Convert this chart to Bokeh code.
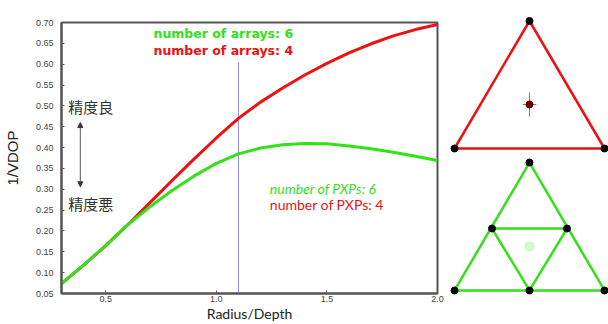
from bokeh.plotting import figure
from bokeh.layouts import row
from bokeh.models import Range1d, FixedTicker, PrintfTickFormatter, Label, Arrow, NormalHead
from bokeh.embed import file_html
from bokeh.resources import INLINE

# ---- data ----
radius_depth = [0.3, 0.4, 0.5, 0.6, 0.7, 0.8, 0.9, 1.0, 1.1, 1.2, 1.3, 1.4, 1.5, 1.6, 1.7, 1.8, 1.9, 2.0]
vdop_arrays4 = [0.074, 0.118, 0.165, 0.215, 0.268, 0.321, 0.373, 0.423, 0.470, 0.509, 0.543, 0.574, 0.602, 0.627, 0.649, 0.668, 0.683, 0.695]
vdop_arrays6 = [0.074, 0.118, 0.165, 0.215, 0.258, 0.297, 0.332, 0.362, 0.385, 0.399, 0.407, 0.410, 0.409, 0.404, 0.397, 0.389, 0.379, 0.369]
x_ticks = [0.5, 1.0, 1.5, 2.0]
y_ticks = [0.05, 0.10, 0.15, 0.20, 0.25, 0.30, 0.35, 0.40, 0.45, 0.50, 0.55, 0.60, 0.65, 0.70]
marker_x = [1.1]
marker_bottom = [0.05]
marker_top = [0.605]

# station layouts (triangle base = 2 units)
tri4_x = [0, 2, 1]
tri4_y = [0.0, 0.0, 1.70]
tri4_center_x = [1]
tri4_center_y = [0.587]
tri6_outer_x = [0, 2, 1]
tri6_outer_y = [-1.893, -1.893, -0.187]
tri6_inner_x = [0.5, 1.5, 1]
tri6_inner_y = [-1.067, -1.067, -1.893]
tri6_center_x = [1]
tri6_center_y = [-1.307]

RED = "#ee1111"
GREEN = "#33e01a"
AXIS = "#555555"

p = figure(width=448, height=324, x_range=Range1d(0.3, 2.0), y_range=Range1d(0.05, 0.70),
           output_backend="svg", toolbar_location=None,
           min_border_left=58, min_border_top=22, min_border_right=11, min_border_bottom=26)
p.frame_align = False
p.grid.visible = False
p.outline_line_color = AXIS
p.outline_line_width = 2
p.background_fill_color = "white"
p.border_fill_color = "white"

for ax in (p.xaxis[0], p.yaxis[0]):
    ax.axis_line_color = AXIS
    ax.axis_line_width = 2
    ax.major_tick_in = 3
    ax.major_tick_out = 0
    ax.major_tick_line_color = AXIS
    ax.minor_tick_line_color = None
    ax.major_label_text_font = "Liberation Sans"
    ax.major_label_text_font_size = "9px"
    ax.major_label_text_color = "#444444"

p.xaxis.ticker = FixedTicker(ticks=x_ticks)
p.xaxis.formatter = PrintfTickFormatter(format="%.1f")
p.yaxis.ticker = FixedTicker(ticks=y_ticks)
p.yaxis.formatter = PrintfTickFormatter(format="%.2f")
p.xaxis.major_label_standoff = 2
p.yaxis.major_label_standoff = 8

p.xaxis.axis_label = "Radius/Depth"
p.xaxis.axis_label_text_font = "Lato"
p.xaxis.axis_label_text_font_size = "14px"
p.xaxis.axis_label_text_font_style = "normal"
p.xaxis.axis_label_text_color = "#222222"
p.xaxis.axis_label_standoff = 0
p.yaxis.axis_label = "1/VDOP"
p.yaxis.axis_label_text_font = "Liberation Sans"
p.yaxis.axis_label_text_font_size = "15px"
p.yaxis.axis_label_text_font_style = "normal"
p.yaxis.axis_label_text_color = "#222222"
p.yaxis.axis_label_standoff = 12

p.segment(x0=marker_x, y0=marker_bottom, x1=marker_x, y1=marker_top, line_color="#8c8cf0", line_width=1)
p.line(radius_depth, vdop_arrays4, line_color=RED, line_width=3)
p.line(radius_depth, vdop_arrays6, line_color=GREEN, line_width=3)

p.add_layout(Label(x=0.716, y=0.674, text="number of arrays: 6", text_color=GREEN,
                   text_font="DejaVu Sans", text_font_style="bold", text_font_size="12.5px",
                   text_baseline="middle"))
p.add_layout(Label(x=0.716, y=0.634, text="number of arrays: 4", text_color=RED,
                   text_font="DejaVu Sans", text_font_style="bold", text_font_size="12.5px",
                   text_baseline="middle"))
p.add_layout(Label(x=1.242, y=0.301, text="number of PXPs: 6", text_color=GREEN,
                   text_font="Lato", text_font_style="italic", text_font_size="14px",
                   text_baseline="middle"))
p.add_layout(Label(x=1.242, y=0.263, text="number of PXPs: 4", text_color=RED,
                   text_font="Lato", text_font_size="14px", text_baseline="middle"))
p.add_layout(Label(x=0.331, y=0.498, text="精度良", text_color="#333333",
                   text_font="Noto Sans CJK JP", text_font_size="15px", text_baseline="middle"))
p.add_layout(Label(x=0.331, y=0.266, text="精度悪", text_color="#333333",
                   text_font="Noto Sans CJK JP", text_font_size="15px", text_baseline="middle"))
p.add_layout(Arrow(x_start=0.385, y_start=0.306, x_end=0.385, y_end=0.460,
                   line_color="#555555", line_width=1,
                   start=NormalHead(size=5, fill_color="#333333", line_color="#333333"),
                   end=NormalHead(size=5, fill_color="#333333", line_color="#333333")))

# ---- station layout panel ----
q = figure(width=160, height=324, x_range=Range1d(-0.08, 2.0533), y_range=Range1d(-2.3467, 1.9733),
           output_backend="svg", toolbar_location=None, x_axis_location=None, y_axis_location=None,
           min_border=0)
q.frame_align = False
q.grid.visible = False
q.outline_line_color = None
q.background_fill_color = "white"
q.border_fill_color = "white"

q.patch(tri4_x, tri4_y, fill_color=None, line_color=RED, line_width=2.5)
q.segment(x0=[tri4_center_x[0] - 0.09], y0=tri4_center_y, x1=[tri4_center_x[0] + 0.09], y1=tri4_center_y,
          line_color="#cc5555", line_width=1)
q.segment(x0=tri4_center_x, y0=[tri4_center_y[0] - 0.16], x1=tri4_center_x, y1=[tri4_center_y[0] + 0.16],
          line_color="#cc5555", line_width=1)
q.scatter(tri4_center_x, tri4_center_y, size=7, color="#660000")
q.scatter(tri4_x, tri4_y, size=7, color="black")

q.patch(tri6_outer_x, tri6_outer_y, fill_color=None, line_color=GREEN, line_width=2.5)
q.patch(tri6_inner_x, tri6_inner_y, fill_color=None, line_color=GREEN, line_width=2.5)
q.scatter(tri6_center_x, tri6_center_y, size=9, color=GREEN, alpha=0.2)
q.scatter(tri6_outer_x + tri6_inner_x, tri6_outer_y + tri6_inner_y, size=7, color="black")

layout = row(p, q)
open("out.html", "w").write(file_html(layout, INLINE))
